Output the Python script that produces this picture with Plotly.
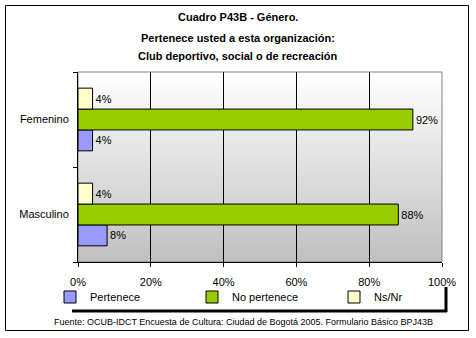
import plotly.graph_objects as go

# Survey results by gender (share of respondents)
categorias = ["Masculino", "Femenino"]
pertenece = [0.08, 0.04]
no_pertenece = [0.88, 0.92]
ns_nr = [0.04, 0.04]

series = [
    ("Pertenece", pertenece, "#9999FF"),
    ("No pertenece", no_pertenece, "#99CC00"),
    ("Ns/Nr", ns_nr, "#FFFFCC"),
]

titulo = ["Cuadro P43B - Género.",
          "Pertenece usted a esta organización:",
          "Club deportivo, social o de recreación"]
fuente = "Fuente: OCUB-IDCT Encuesta de Cultura: Ciudad de Bogotá 2005. Formulario Básico BPJ43B"

W, H = 476, 338
L, R, T, B = 78, 34, 72, 76
pw, ph = W - L - R, H - T - B

def px_x(x):
    return (x - L) / pw

def px_y(y):
    return (H - B - y) / ph

FONT = "Liberation Sans"

fig = go.Figure()
for nombre, valores, color in series:
    fig.add_trace(go.Bar(
        y=categorias, x=valores, name=nombre, orientation="h",
        marker=dict(color=color, line=dict(color="black", width=1)),
        text=[f"{v:.0%}" for v in valores], textposition="outside",
        textfont=dict(family=FONT, size=11, color="black"),
        cliponaxis=False,
    ))

shapes = []
# vertical gradient backdrop of the plotting area (white to silver)
n = 95
for i in range(n):
    t = i / (n - 1)
    c = round(255 - (255 - 192) * t)
    shapes.append(dict(type="rect", xref="paper", yref="paper", layer="below",
                       x0=0, x1=1, y0=1 - (i + 1) / n, y1=1 - i / n,
                       fillcolor=f"rgb({c},{c},{c})", line=dict(width=0)))
# plot area frame
shapes.append(dict(type="rect", xref="paper", yref="paper", layer="below",
                   x0=0, x1=1, y0=0, y1=1, line=dict(color="#808080", width=1)))
# outer chart frame
shapes.append(dict(type="rect", xref="paper", yref="paper",
                   x0=px_x(5.5), x1=px_x(468.5), y0=px_y(330.5), y1=px_y(5.5),
                   line=dict(color="black", width=1)))
# legend box shadow
shapes.append(dict(type="line", xref="paper", yref="paper",
                   x0=px_x(72), x1=px_x(447), y0=px_y(311), y1=px_y(311),
                   line=dict(color="black", width=3)))
shapes.append(dict(type="line", xref="paper", yref="paper",
                   x0=px_x(446), x1=px_x(446), y0=px_y(287), y1=px_y(312),
                   line=dict(color="black", width=3)))

annotations = []
for linea, yy in zip(titulo, [17, 38, 56]):
    annotations.append(dict(text=f"<b>{linea}</b>", xref="paper", yref="paper",
                            x=px_x(238), y=px_y(yy), showarrow=False,
                            xanchor="center", yanchor="middle",
                            font=dict(family=FONT, size=11, color="black")))
annotations.append(dict(text=fuente, xref="paper", yref="paper",
                        x=px_x(243), y=px_y(322), showarrow=False,
                        xanchor="center", yanchor="middle",
                        font=dict(family=FONT, size=9, color="black")))

fig.update_layout(
    width=W, height=H,
    margin=dict(l=L, r=R, t=T, b=B),
    paper_bgcolor="white", plot_bgcolor="rgba(0,0,0,0)",
    barmode="group", bargap=0.34, bargroupgap=0,
    font=dict(family=FONT, size=11, color="black"),
    showlegend=True,
    legend=dict(orientation="h", x=px_x(77), y=px_y(297), xanchor="left",
                yanchor="middle", entrywidth=97, entrywidthmode="pixels",
                itemwidth=30, font=dict(family=FONT, size=11, color="black"),
                bgcolor="rgba(0,0,0,0)", traceorder="normal"),
    shapes=shapes, annotations=annotations,
)
fig.update_xaxes(range=[0, 1], dtick=0.2, tickformat=".0%",
                 showgrid=True, gridcolor="black", gridwidth=1,
                 ticks="outside", ticklen=4, tickcolor="black",
                 showline=True, linecolor="black", linewidth=1,
                 zeroline=False, fixedrange=True, ticklabelstandoff=6)
fig.update_yaxes(range=[-0.5, 1.5], tickson="boundaries", ticks="outside",
                 ticklen=4, tickcolor="black", showline=True,
                 linecolor="black", linewidth=1, showgrid=False,
                 fixedrange=True, ticklabelstandoff=6)

fig.write_html("out.html")
